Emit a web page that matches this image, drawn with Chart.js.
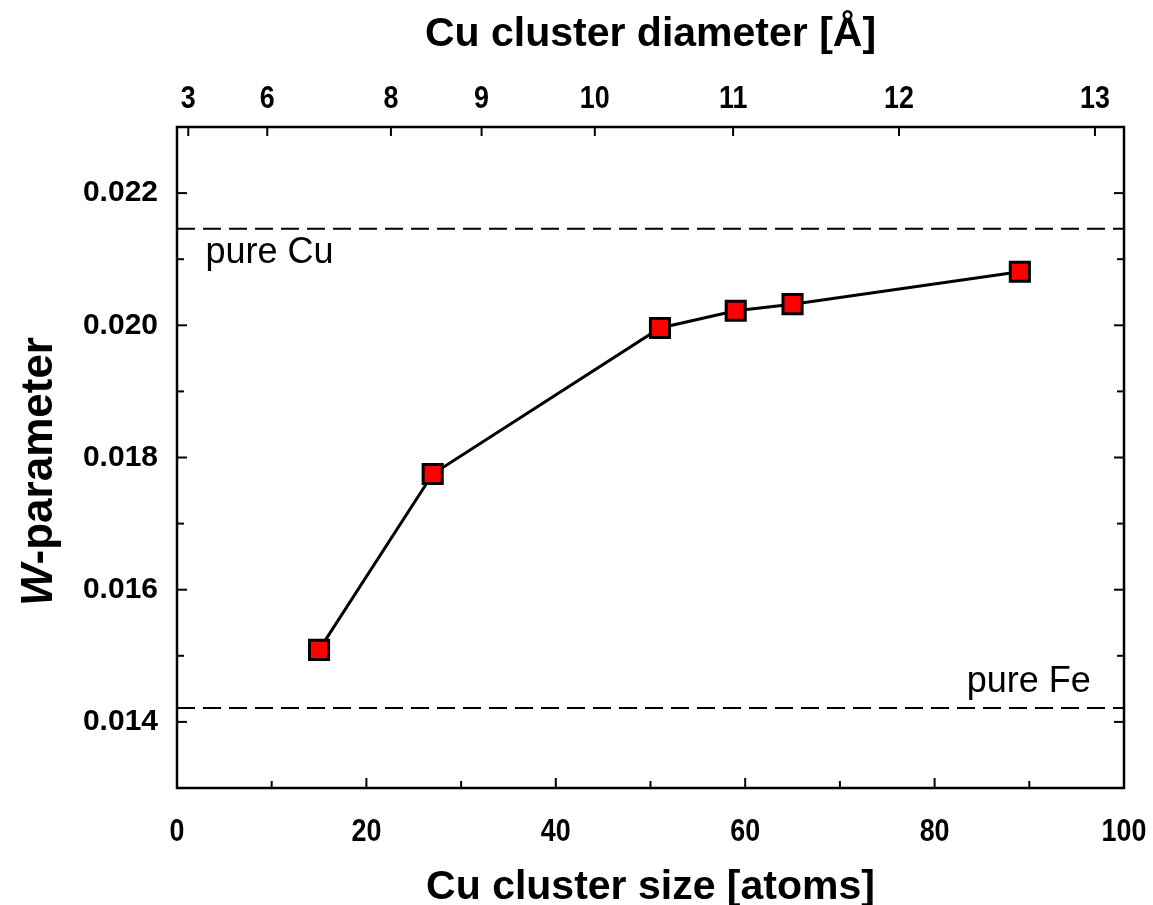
<!DOCTYPE html>
<html>
<head>
<meta charset="utf-8">
<title>W-parameter vs Cu cluster size</title>
<script src="https://cdn.jsdelivr.net/npm/chart.js@4.4.1/dist/chart.umd.min.js"></script>
<style>
  html, body { margin: 0; padding: 0; background: #fff; }
  #wrap { width: 1153px; height: 905px; }
</style>
</head>
<body>
<div id="wrap"><canvas id="wChart" width="1153" height="905"></canvas></div>
<script>
// Cu cluster sizes (atoms) and the W-parameter measured for each
const clusterSizes = [15, 27, 51, 59, 65, 89];
const wValues = [0.01509, 0.01775, 0.01996, 0.02022, 0.02032, 0.02081];

// reference levels for the bulk metals
const pureCuW = 0.02146;
const pureFeW = 0.01421;

// axis ticks
const sizeTicks = [0, 20, 40, 60, 80, 100];
const sizeMinorTicks = [10, 30, 50, 70, 90];
const wTicks = [0.014, 0.016, 0.018, 0.020, 0.022];
const wMinorTicks = [0.015, 0.017, 0.019, 0.021];
const diameterTicks = [3, 6, 8, 9, 10, 11, 12, 13];

// diameter grows with the cube root of the atom count: d = k * n^(1/3)
const DIAM_K = 2.83;
const sizeFromDiameter = d => Math.pow(d / DIAM_K, 3);

const FONT = "'Liberation Sans', Arial, sans-serif";

// frame around the plot plus inward-pointing tick marks on all four sides
const frameTicks = {
  id: 'frameTicks',
  afterDatasetsDraw(chart) {
    const { ctx, chartArea: a, scales } = chart;
    const seg = (x1, y1, x2, y2) => {
      ctx.beginPath();
      ctx.moveTo(x1, y1);
      ctx.lineTo(x2, y2);
      ctx.stroke();
    };
    ctx.save();
    ctx.strokeStyle = '#000';
    ctx.lineWidth = 2;
    sizeTicks.forEach(v => {
      const x = scales.x.getPixelForValue(v);
      seg(x, a.bottom, x, a.bottom - 10);
    });
    sizeMinorTicks.forEach(v => {
      const x = scales.x.getPixelForValue(v);
      seg(x, a.bottom, x, a.bottom - 7);
    });
    diameterTicks.forEach(d => {
      const x = scales.xTop.getPixelForValue(sizeFromDiameter(d));
      seg(x, a.top, x, a.top + 9);
    });
    wTicks.forEach(v => {
      const y = scales.y.getPixelForValue(v);
      seg(a.left, y, a.left + 10, y);
      seg(a.right, y, a.right - 10, y);
    });
    wMinorTicks.forEach(v => {
      const y = scales.y.getPixelForValue(v);
      seg(a.left, y, a.left + 7, y);
      seg(a.right, y, a.right - 7, y);
    });
    ctx.lineWidth = 2.5;
    ctx.strokeRect(a.left, a.top, a.right - a.left, a.bottom - a.top);
    ctx.restore();
  }
};

// tick numbers on the two x axes, set in a condensed bold face
const condensedTicks = {
  id: 'condensedTicks',
  afterDraw(chart) {
    const { ctx, chartArea: a, scales } = chart;
    const put = (text, x, y) => {
      ctx.save();
      ctx.translate(x, y);
      ctx.scale(0.84, 1);
      ctx.fillText(text, 0, 0);
      ctx.restore();
    };
    ctx.save();
    ctx.fillStyle = '#000';
    ctx.font = 'bold 32px ' + FONT;
    ctx.textAlign = 'center';
    ctx.textBaseline = 'alphabetic';
    sizeTicks.forEach(v => put(String(v), scales.x.getPixelForValue(v), a.bottom + 53));
    diameterTicks.forEach(d => put(String(d), scales.xTop.getPixelForValue(sizeFromDiameter(d)), a.top - 19));
    ctx.restore();
  }
};

// "pure Cu" / "pure Fe" captions next to the dashed reference lines
const levelLabels = {
  id: 'levelLabels',
  afterDatasetsDraw(chart) {
    const { ctx, scales } = chart;
    ctx.save();
    ctx.fillStyle = '#000';
    ctx.font = '36px ' + FONT;
    ctx.textBaseline = 'middle';
    ctx.textAlign = 'left';
    ctx.fillText('pure Cu', scales.x.getPixelForValue(3), scales.y.getPixelForValue(pureCuW) + 24);
    ctx.textAlign = 'right';
    ctx.fillText('pure Fe', scales.x.getPixelForValue(96.5), scales.y.getPixelForValue(pureFeW) - 26);
    ctx.restore();
  }
};

// rotated y title with an italic W
const yTitle = {
  id: 'yTitle',
  afterDraw(chart) {
    const { ctx, chartArea: a } = chart;
    const first = 'W';
    const rest = '-parameter';
    ctx.save();
    ctx.translate(40, (a.top + a.bottom) / 2 + 14);
    ctx.rotate(-Math.PI / 2);
    ctx.fillStyle = '#000';
    ctx.textBaseline = 'middle';
    ctx.textAlign = 'left';
    ctx.font = 'italic bold 44px ' + FONT;
    const w1 = ctx.measureText(first).width;
    ctx.font = 'bold 44px ' + FONT;
    const w2 = ctx.measureText(rest).width;
    const start = -(w1 + w2) / 2;
    ctx.font = 'italic bold 44px ' + FONT;
    ctx.fillText(first, start, 0);
    ctx.font = 'bold 44px ' + FONT;
    ctx.fillText(rest, start + w1, 0);
    ctx.restore();
  }
};

const toPoints = (xs, ys) => xs.map((x, i) => ({ x, y: ys[i] }));
const levelLine = y => [{ x: 0, y }, { x: 100, y }];

const dashedLine = (label, y) => ({
  label,
  data: levelLine(y),
  borderColor: '#000',
  borderWidth: 2,
  borderDash: [18, 8],
  pointRadius: 0,
  xAxisID: 'x',
  yAxisID: 'y'
});

new Chart(document.getElementById('wChart'), {
  type: 'line',
  data: {
    datasets: [
      {
        label: 'W-parameter',
        data: toPoints(clusterSizes, wValues),
        borderColor: '#000',
        borderWidth: 3,
        pointStyle: 'rect',
        pointRadius: 13.5,
        pointBackgroundColor: '#ff0000',
        pointBorderColor: '#000',
        pointBorderWidth: 3,
        xAxisID: 'x',
        yAxisID: 'y'
      },
      dashedLine('pure Cu', pureCuW),
      dashedLine('pure Fe', pureFeW)
    ]
  },
  options: {
    responsive: false,
    animation: false,
    devicePixelRatio: 1,
    layout: { padding: { left: 0, right: 29, top: 0, bottom: 0 } },
    plugins: {
      legend: { display: false },
      tooltip: { enabled: false }
    },
    scales: {
      x: {
        type: 'linear',
        position: 'bottom',
        min: 0,
        max: 100,
        afterBuildTicks: scale => { scale.ticks = sizeTicks.map(value => ({ value })); },
        afterFit: scale => { scale.height = 117; },
        grid: { display: false, drawTicks: false },
        border: { display: false },
        ticks: { display: false },
        title: {
          display: true,
          text: 'Cu cluster size [atoms]',
          color: '#000',
          padding: { top: 0, bottom: -3 },
          font: { family: FONT, size: 41, weight: 'bold', lineHeight: 1 }
        }
      },
      xTop: {
        type: 'linear',
        position: 'top',
        min: 0,
        max: 100,
        afterBuildTicks: scale => {
          scale.ticks = diameterTicks.map(d => ({ value: sizeFromDiameter(d) }));
        },
        afterFit: scale => { scale.height = 127; },
        grid: { display: false, drawTicks: false },
        border: { display: false },
        ticks: { display: false },
        title: {
          display: true,
          text: 'Cu cluster diameter [Å]',
          color: '#000',
          padding: { top: 14, bottom: 0 },
          font: { family: FONT, size: 41, weight: 'bold', lineHeight: 1 }
        }
      },
      y: {
        type: 'linear',
        position: 'left',
        min: 0.013,
        max: 0.023,
        afterBuildTicks: scale => { scale.ticks = wTicks.map(value => ({ value })); },
        afterFit: scale => { scale.width = 177; },
        grid: { display: false, drawTicks: false },
        border: { display: false },
        ticks: {
          autoSkip: false,
          padding: 19,
          color: '#000',
          font: { family: FONT, size: 30, weight: 'bold' },
          callback: value => value.toFixed(3)
        }
      }
    }
  },
  plugins: [frameTicks, condensedTicks, levelLabels, yTitle]
});
</script>
</body>
</html>
